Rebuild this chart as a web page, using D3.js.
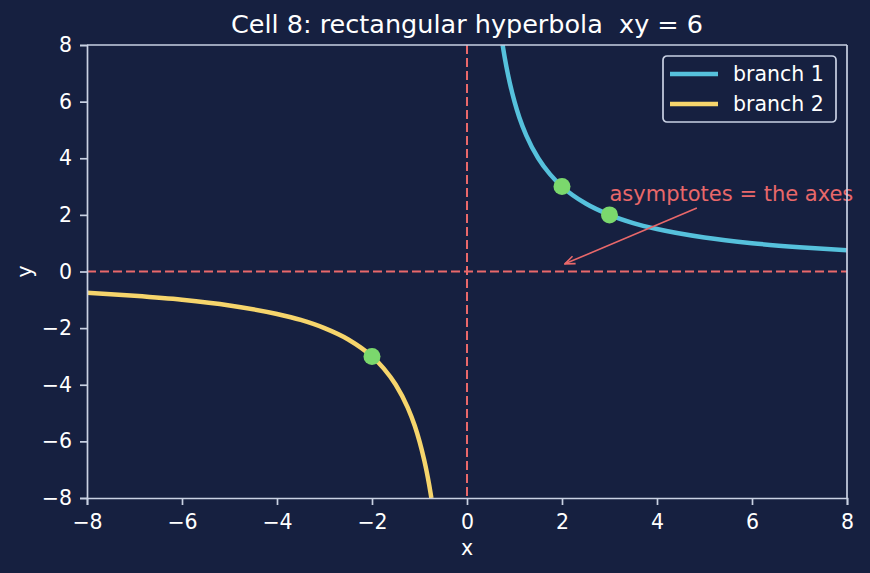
<!DOCTYPE html>
<html>
<head>
<meta charset="utf-8">
<script src="https://cdn.jsdelivr.net/npm/d3@7"></script>
<style>
  body { margin: 0; background: #162040; }
  svg { display: block; font-family: "DejaVu Sans", sans-serif; }
  text { white-space: pre; }
</style>
</head>
<body>
<div id="chart"></div>
<script>
// xy = 6
var branch1X = [0.75, 0.8, 0.85, 0.9, 1, 1.1, 1.25, 1.5, 1.75, 2, 2.5, 3, 3.5, 4, 5, 6, 7, 8]
var branch1Y = [8, 7.5, 7.06, 6.67, 6, 5.45, 4.8, 4, 3.43, 3, 2.4, 2, 1.71, 1.5, 1.2, 1, 0.86, 0.75]
var branch2X = [-8, -7, -6, -5, -4, -3.5, -3, -2.5, -2, -1.75, -1.5, -1.25, -1.1, -1, -0.9, -0.85, -0.8, -0.75]
var branch2Y = [-0.75, -0.86, -1, -1.2, -1.5, -1.71, -2, -2.4, -3, -3.43, -4, -4.8, -5.45, -6, -6.67, -7.06, -7.5, -8]
var pointsX = [2, 3, -2]
var pointsY = [3, 2, -3]
var ticks = [-8, -6, -4, -2, 0, 2, 4, 6, 8]
var seriesNames = ["branch 1", "branch 2"]

var width = 870, height = 573
var margin = {top: 45, right: 23, bottom: 75, left: 87}
var w = width - margin.left - margin.right
var h = height - margin.top - margin.bottom

var bg = "#162040", fg = "#ffffff", axisCol = "#c9d1e3"
var colors = ["#56c1dc", "#f6d56c"]
var red = "#e9686a"
var fs = 20.5

var svg = d3.select("#chart").append("svg")
  .attr("width", width).attr("height", height)
svg.append("rect").attr("width", width).attr("height", height).attr("fill", bg)

var x = d3.scaleLinear().domain([-8, 8]).range([0, w])
var y = d3.scaleLinear().domain([-8, 8]).range([h, 0])

var g = svg.append("g").attr("transform", "translate(" + margin.left + "," + margin.top + ")")

var defs = svg.append("defs")
defs.append("clipPath").attr("id", "clip")
  .append("rect").attr("width", w).attr("height", h)

// asymptotes
g.append("line").attr("x1", x(0)).attr("x2", x(0)).attr("y1", 0).attr("y2", h)
  .attr("stroke", red).attr("stroke-width", 2).attr("stroke-dasharray", "9,4")
g.append("line").attr("x1", 0).attr("x2", w).attr("y1", y(0)).attr("y2", y(0))
  .attr("stroke", red).attr("stroke-width", 2).attr("stroke-dasharray", "9,4")

var line = d3.line()
  .x(function(d) { return x(d[0]) })
  .y(function(d) { return y(d[1]) })
  .curve(d3.curveMonotoneX)

var b1 = branch1X.map(function(v, i) { return [v, branch1Y[i]] })
var b2 = branch2X.map(function(v, i) { return [v, branch2Y[i]] })

var plot = g.append("g").attr("clip-path", "url(#clip)")
plot.append("path").datum(b1).attr("d", line)
  .attr("fill", "none").attr("stroke", colors[0]).attr("stroke-width", 4.5)
plot.append("path").datum(b2).attr("d", line)
  .attr("fill", "none").attr("stroke", colors[1]).attr("stroke-width", 4.5)

g.selectAll("circle.pt")
  .data(pointsX.map(function(v, i) { return [v, pointsY[i]] }))
  .enter().append("circle")
  .attr("class", "pt")
  .attr("cx", function(d) { return x(d[0]) })
  .attr("cy", function(d) { return y(d[1]) })
  .attr("r", 8.5)
  .attr("fill", "#7bd86d")

// annotation
defs.append("marker").attr("id", "arrow")
  .attr("viewBox", "0 0 12 12").attr("refX", 11).attr("refY", 6)
  .attr("markerWidth", 12).attr("markerHeight", 12)
  .attr("markerUnits", "userSpaceOnUse")
  .attr("orient", "auto")
  .append("path").attr("d", "M1,2 L11,6 L1,10")
  .attr("fill", "none").attr("stroke", red).attr("stroke-width", 1.6)

g.append("line")
  .attr("x1", x(4.84)).attr("y1", y(2.24))
  .attr("x2", x(2.06)).attr("y2", y(0.27))
  .attr("stroke", red).attr("stroke-width", 1.6)
  .attr("marker-end", "url(#arrow)")
g.append("text").attr("x", x(3)).attr("y", y(2.5))
  .attr("fill", red).attr("font-size", 21).text("asymptotes = the axes")

// axes
function fmt(d) { return d3.format("")(d).replace("-", "\u2212") }
var xAxis = g.append("g").attr("transform", "translate(0," + h + ")")
  .call(d3.axisBottom(x).tickValues(ticks).tickSize(7).tickPadding(9).tickFormat(fmt))
var yAxis = g.append("g")
  .call(d3.axisLeft(y).tickValues(ticks).tickSize(7).tickPadding(8).tickFormat(fmt))
g.append("line").attr("x1", w).attr("x2", w).attr("y1", 0).attr("y2", h).attr("stroke", axisCol).attr("stroke-width", 1.7)
g.append("line").attr("x1", 0).attr("x2", w).attr("y1", 0).attr("y2", 0).attr("stroke", axisCol).attr("stroke-width", 1.7)

;[xAxis, yAxis].forEach(function(a) {
  a.select(".domain").attr("stroke", axisCol).attr("stroke-width", 1.7)
  a.selectAll(".tick line").attr("stroke", axisCol).attr("stroke-width", 1.7)
  a.selectAll(".tick text").attr("fill", fg).attr("font-size", fs)
    .attr("font-family", "DejaVu Sans, sans-serif")
})

// labels
svg.append("text").attr("x", margin.left + w / 2).attr("y", 555)
  .attr("text-anchor", "middle").attr("fill", fg).attr("font-size", fs).text("x")
svg.append("text").attr("transform", "translate(32," + (margin.top + y(0)) + ") rotate(-90)")
  .attr("text-anchor", "middle").attr("fill", fg).attr("font-size", fs).text("y")
svg.append("text").attr("x", margin.left + w / 2).attr("y", 33)
  .attr("text-anchor", "middle").attr("fill", fg).attr("font-size", 25.5).text("Cell 8: rectangular hyperbola  xy = 6")

// legend
var lg = g.append("g").attr("transform", "translate(" + (663 - margin.left) + "," + (56 - margin.top) + ")")
lg.append("rect").attr("width", 173).attr("height", 66).attr("rx", 4)
  .attr("fill", bg).attr("stroke", axisCol).attr("stroke-width", 1.7)
seriesNames.forEach(function(name, i) {
  var ly = 18 + i * 30
  lg.append("line").attr("x1", 7).attr("x2", 55).attr("y1", ly).attr("y2", ly)
    .attr("stroke", colors[i]).attr("stroke-width", 4.5)
  lg.append("text").attr("x", 70).attr("y", ly + 7).attr("fill", fg)
    .attr("font-size", fs).text(name)
})
</script>
</body>
</html>
